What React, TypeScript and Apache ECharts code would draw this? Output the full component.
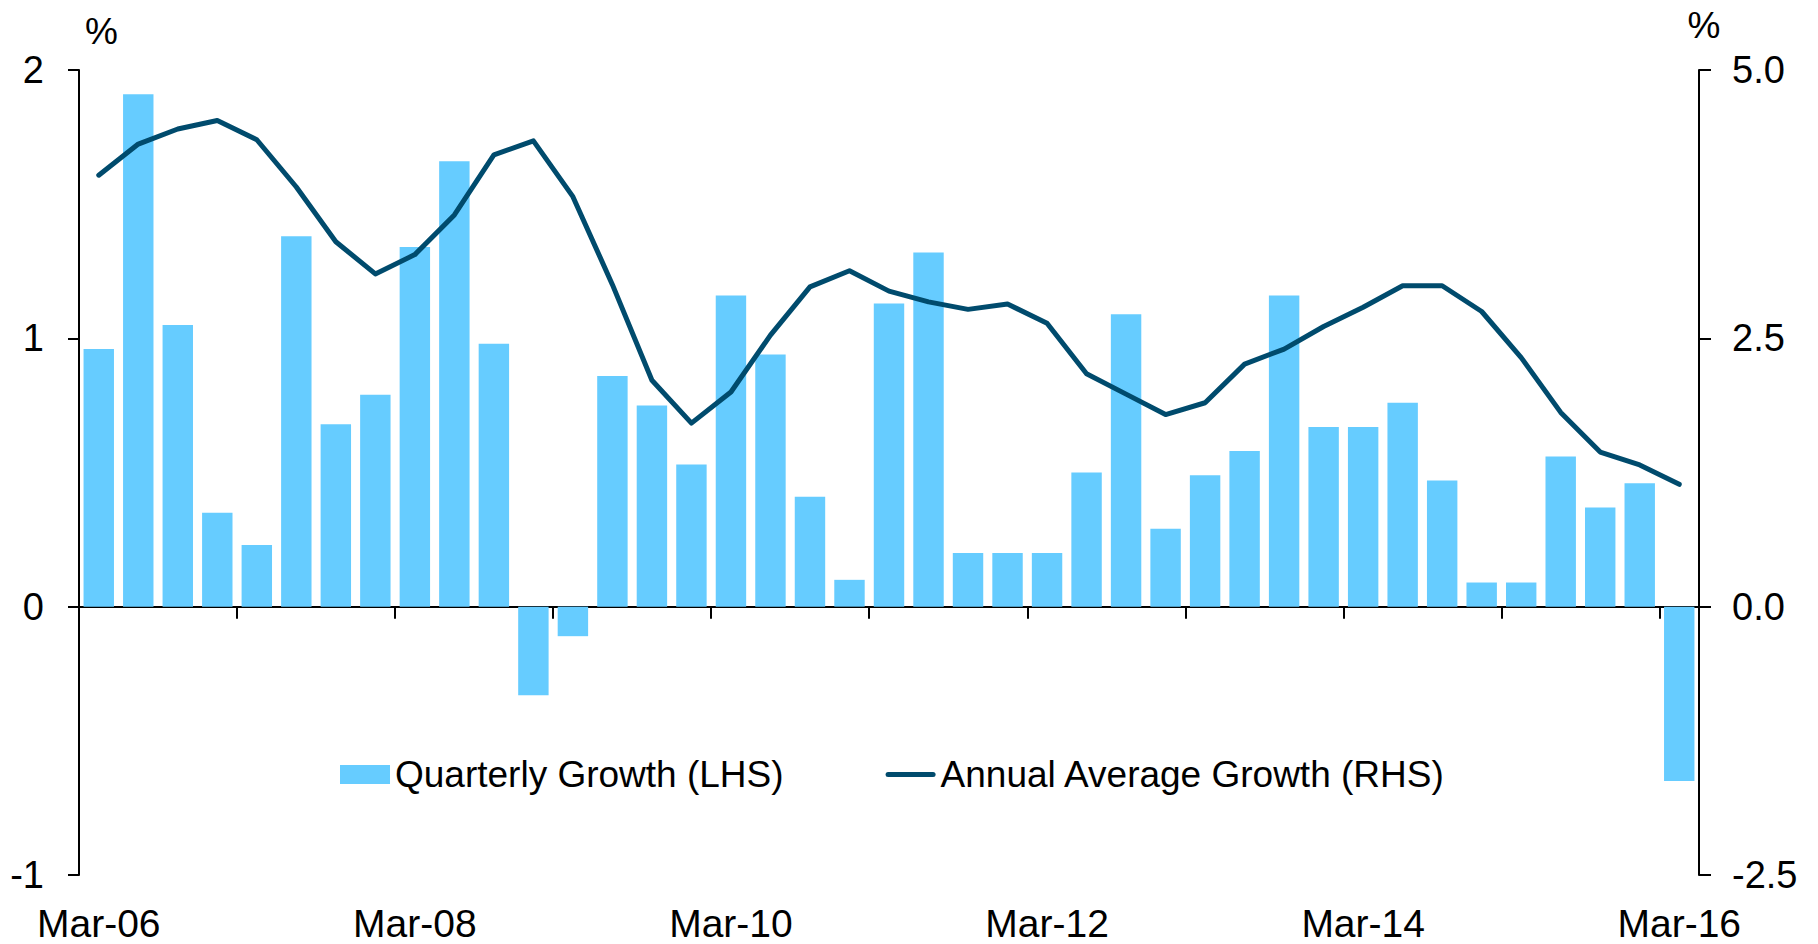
import React, { useEffect, useRef } from "react";
import * as echarts from "echarts";

const categories = [
  "Mar-06", "Jun-06", "Sep-06", "Dec-06",
  "Mar-07", "Jun-07", "Sep-07", "Dec-07",
  "Mar-08", "Jun-08", "Sep-08", "Dec-08",
  "Mar-09", "Jun-09", "Sep-09", "Dec-09",
  "Mar-10", "Jun-10", "Sep-10", "Dec-10",
  "Mar-11", "Jun-11", "Sep-11", "Dec-11",
  "Mar-12", "Jun-12", "Sep-12", "Dec-12",
  "Mar-13", "Jun-13", "Sep-13", "Dec-13",
  "Mar-14", "Jun-14", "Sep-14", "Dec-14",
  "Mar-15", "Jun-15", "Sep-15", "Dec-15",
  "Mar-16",
];

const quarterlyGrowth = [
  0.96, 1.91, 1.05, 0.35,
  0.23, 1.38, 0.68, 0.79,
  1.34, 1.66, 0.98, -0.33,
  -0.11, 0.86, 0.75, 0.53,
  1.16, 0.94, 0.41, 0.10,
  1.13, 1.32, 0.20, 0.20,
  0.20, 0.50, 1.09, 0.29,
  0.49, 0.58, 1.16, 0.67,
  0.67, 0.76, 0.47, 0.09,
  0.09, 0.56, 0.37, 0.46,
  -0.65,
];

const annualAverageGrowth = [
  4.02, 4.31, 4.45, 4.53,
  4.35, 3.91, 3.40, 3.10,
  3.28, 3.65, 4.21, 4.34,
  3.82, 3.00, 2.11, 1.71,
  2.00, 2.53, 2.98, 3.13,
  2.94, 2.84, 2.77, 2.82,
  2.64, 2.17, 1.98, 1.79,
  1.90, 2.26, 2.40, 2.61,
  2.79, 2.99, 2.99, 2.75,
  2.32, 1.81, 1.44, 1.32,
  1.14,
];

const leftTicks = { min: -1, max: 2, interval: 1 };
const rightTicks = { min: -2.5, max: 5, interval: 2.5 };

const FONT = "'Liberation Sans', Arial, Helvetica, sans-serif";
const BAR_COLOR = "#66CCFF";
const LINE_COLOR = "#004B6D";

export default function App() {
  const ref = useRef<HTMLDivElement>(null);

  useEffect(() => {
    if (!ref.current) return;
    const chart = echarts.init(ref.current, null, { renderer: "svg" });
    const axisLineStyle = { color: "#000", width: 2 };
    chart.setOption({
      animation: false,
      backgroundColor: "#fff",
      textStyle: { fontFamily: FONT },
      grid: { left: 79, right: 119, top: 70, bottom: 69, containLabel: false },
      legend: {
        left: 340,
        top: 756,
        padding: 0,
        itemWidth: 50,
        itemHeight: 19,
        itemGap: 102,
        textStyle: { fontSize: 37, color: "#000", fontFamily: FONT },
        data: [
          { name: "Quarterly Growth (LHS)", icon: "rect" },
          {
            name: "Annual Average Growth (RHS)",
            icon: "path://M2.5,0 L47.5,0 A2.5,2.5 0 0 1 47.5,5 L2.5,5 A2.5,2.5 0 0 1 2.5,0 Z",
          },
        ],
      },
      xAxis: [
        {
          type: "category",
          data: categories,
          position: "bottom",
          axisLine: { show: false, onZero: false },
          axisTick: { show: false },
          splitLine: { show: false },
          axisLabel: {
            interval: 7,
            margin: 29,
            fontSize: 39,
            color: "#000",
            fontFamily: FONT,
          },
        },
        {
          type: "category",
          data: categories,
          position: "bottom",
          axisLine: { show: true, onZero: true, onZeroAxisIndex: 0, lineStyle: axisLineStyle },
          axisTick: { show: true, interval: 3, length: 12, lineStyle: axisLineStyle },
          axisLabel: { show: false },
          splitLine: { show: false },
        },
      ],
      yAxis: [
        {
          type: "value",
          position: "left",
          min: leftTicks.min,
          max: leftTicks.max,
          interval: leftTicks.interval,
          name: "%",
          nameLocation: "end",
          nameGap: 20,
          nameTextStyle: { fontSize: 37, color: "#000", padding: [0, 0, 0, 45], fontFamily: FONT },
          axisLine: { show: true, lineStyle: axisLineStyle },
          axisTick: { show: true, length: 11, lineStyle: axisLineStyle },
          splitLine: { show: false },
          axisLabel: { fontSize: 38, color: "#000", margin: 35, fontFamily: FONT },
        },
        {
          type: "value",
          position: "right",
          min: rightTicks.min,
          max: rightTicks.max,
          interval: rightTicks.interval,
          name: "%",
          nameLocation: "end",
          nameGap: 26,
          nameTextStyle: { fontSize: 37, color: "#000", padding: [0, 0, 0, 10], fontFamily: FONT },
          axisLine: { show: true, lineStyle: axisLineStyle },
          axisTick: { show: true, length: 12, lineStyle: axisLineStyle },
          splitLine: { show: false },
          axisLabel: {
            fontSize: 38,
            color: "#000",
            margin: 33,
            fontFamily: FONT,
            formatter: (v: number) => v.toFixed(1),
          },
        },
      ],
      series: [
        {
          name: "Quarterly Growth (LHS)",
          type: "bar",
          xAxisIndex: 0,
          yAxisIndex: 0,
          data: quarterlyGrowth,
          barCategoryGap: "23%",
          itemStyle: { color: BAR_COLOR },
        },
        {
          name: "Annual Average Growth (RHS)",
          type: "line",
          xAxisIndex: 0,
          yAxisIndex: 1,
          data: annualAverageGrowth,
          symbol: "none",
          showSymbol: false,
          itemStyle: { color: LINE_COLOR },
          lineStyle: { color: LINE_COLOR, width: 5, cap: "round", join: "round" },
        },
      ],
    });
    return () => chart.dispose();
  }, []);

  return (
    <div
      ref={ref}
      style={{ position: "fixed", left: 0, top: 0, width: 1818, height: 944, background: "#fff" }}
    />
  );
}
